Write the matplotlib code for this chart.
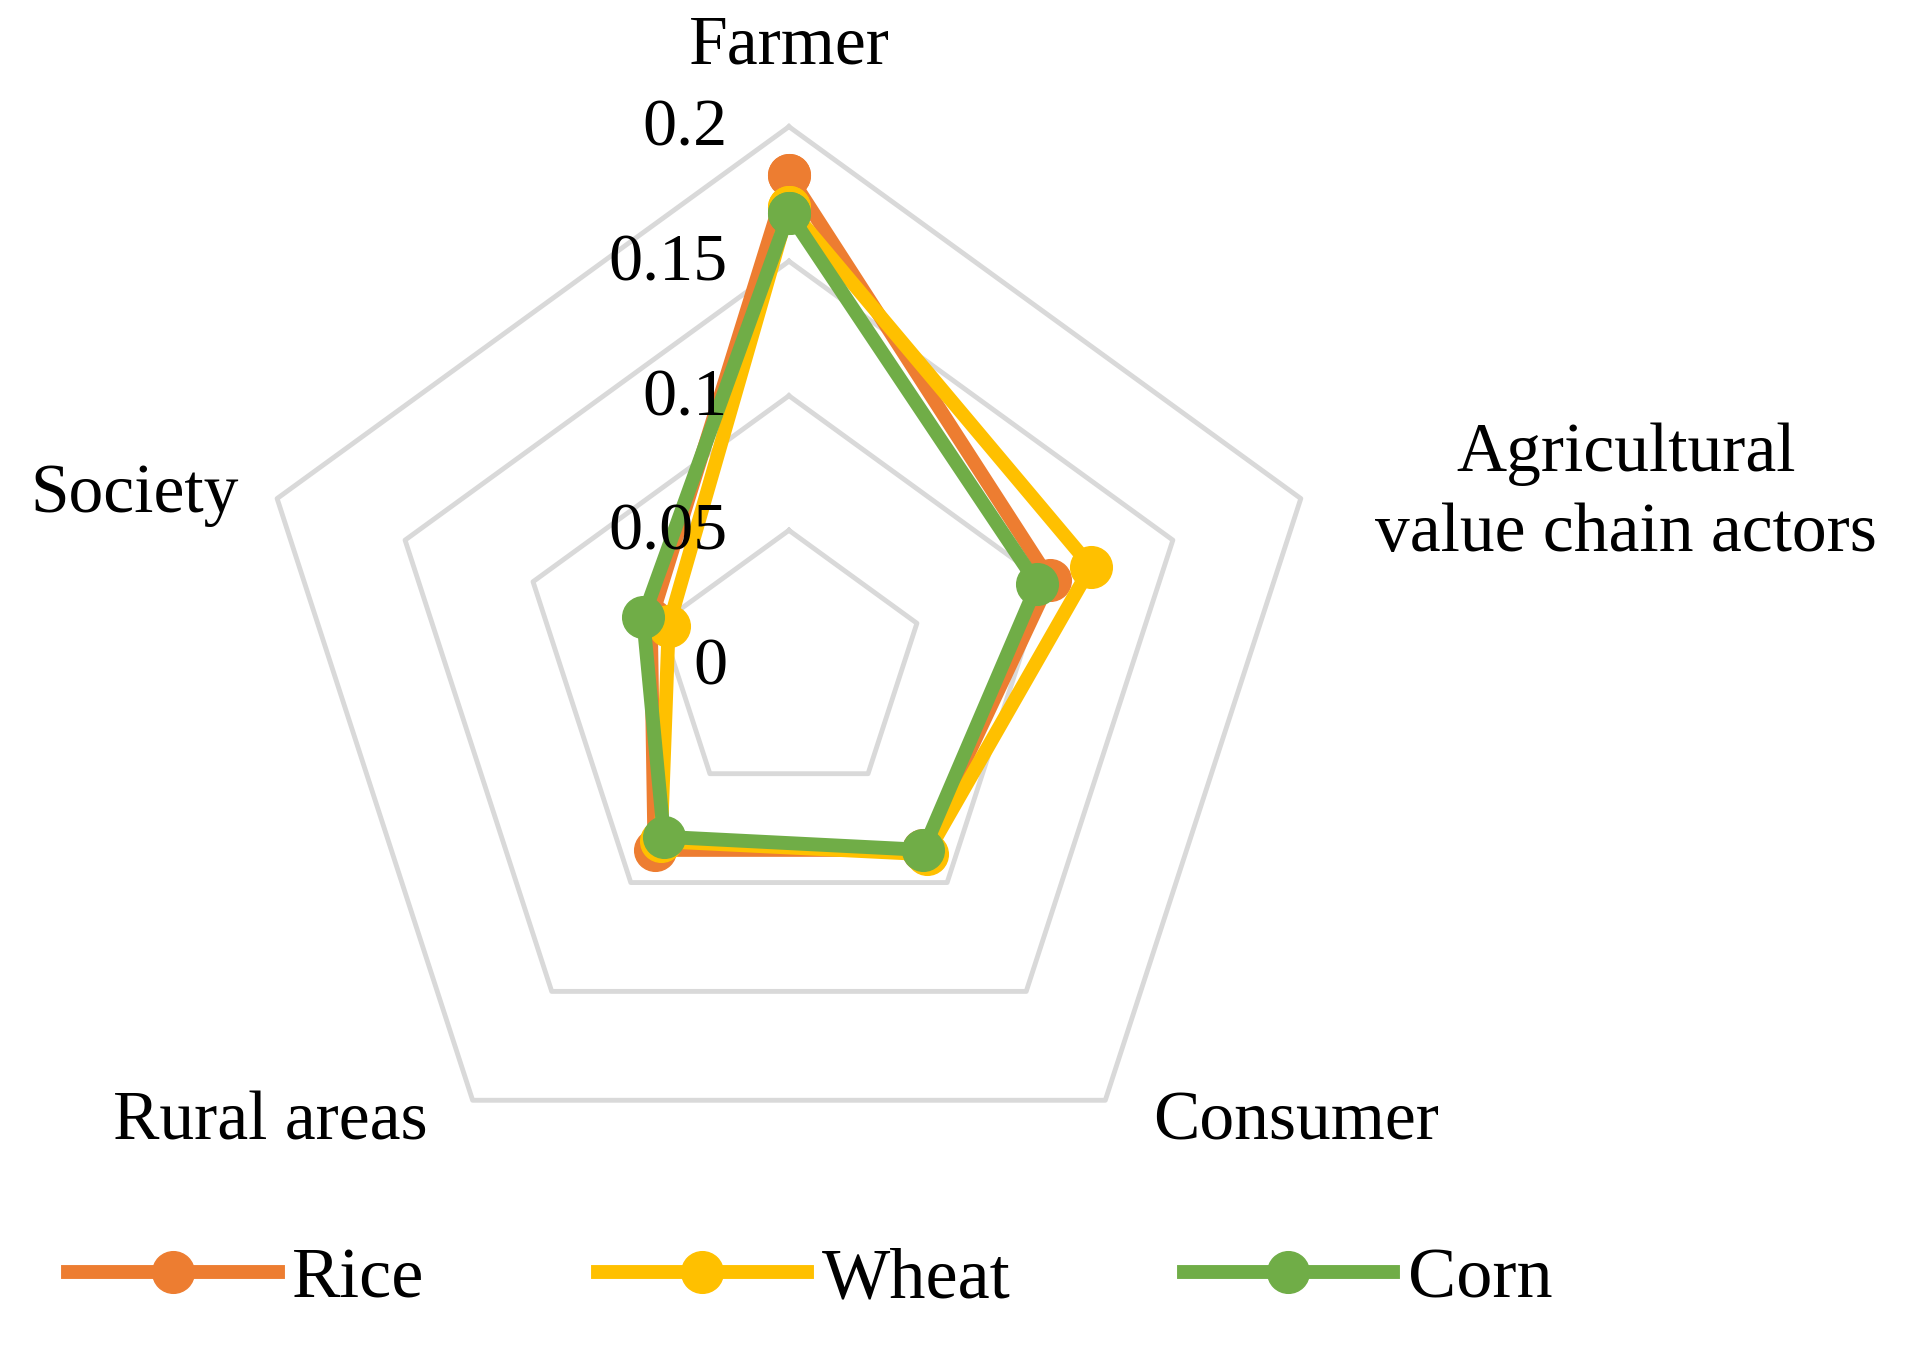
import numpy as np
import matplotlib
matplotlib.use("Agg")
import matplotlib.pyplot as plt

categories = ["Farmer", "Agricultural\nvalue chain actors", "Consumer", "Rural areas", "Society"]
rice = [0.182, 0.102, 0.085, 0.085, 0.054]
wheat = [0.170, 0.118, 0.087, 0.081, 0.047]
corn = [0.168, 0.097, 0.085, 0.079, 0.057]
ticks = [0, 0.05, 0.1, 0.15, 0.2]
tick_labels = ["0", "0.05", "0.1", "0.15", "0.2"]
series = [("Rice", rice, "#ED7D31"), ("Wheat", wheat, "#FFC000"), ("Corn", corn, "#70AD47")]

FONT = "Liberation Serif"
fig = plt.figure(figsize=(19.29, 13.61), dpi=100)
ax = fig.add_axes([0.130, 0.116, 0.558, 0.791], projection="polar")
ax.set_theta_offset(np.pi / 2)
ax.set_theta_direction(-1)
ax.set_ylim(0, 0.2)
ax.grid(False)
ax.spines["polar"].set_visible(False)
ax.set_xticks([]); ax.set_yticks([])
ax.patch.set_alpha(0)

n = len(categories)
ang = np.arange(n) * 2 * np.pi / n
angc = np.append(ang, ang[0])
for t in ticks[1:]:
    ax.plot(angc, [t] * (n + 1), color="#D9D9D9", lw=3.5, zorder=1, clip_on=False)

for name, vals, col in series:
    v = list(vals) + [vals[0]]
    ax.plot(angc, v, color=col, lw=10, marker="o", ms=30, label=name, zorder=3, clip_on=False)

for t, lab in zip(ticks, tick_labels):
    ax.annotate(lab, xy=(0, t), xytext=(-44, -2), textcoords="offset points",
                ha="right", va="center", fontsize=49, family=FONT, zorder=5)

pos = [(0.409, 0.966), (0.843, 0.637), (0.672, 0.175), (0.14, 0.175), (0.07, 0.636)]
for lab, (x, y) in zip(categories, pos):
    fig.text(x, y, lab, ha="center", va="center", fontsize=50, family=FONT, linespacing=1.35)

fig.legend(loc="lower center", bbox_to_anchor=(0.42, -0.012), ncol=3, frameon=False,
           prop={"family": FONT, "size": 52}, handlelength=2.9, columnspacing=2.4,
           handletextpad=0.2)
fig.savefig("out.png", dpi=100, facecolor="white")
